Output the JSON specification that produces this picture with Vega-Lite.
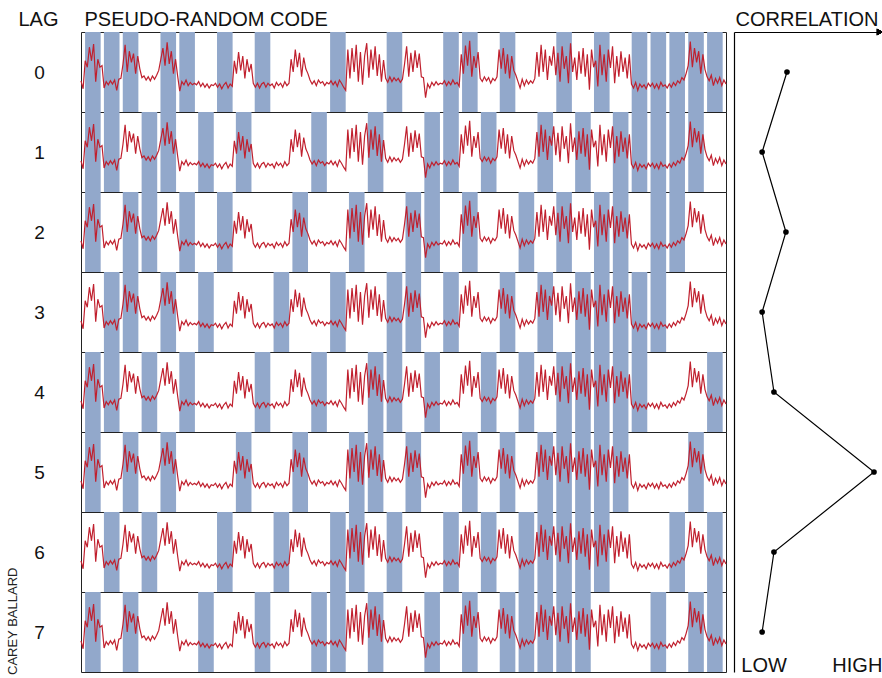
{
"$schema": "https://vega.github.io/schema/vega-lite/v6.json",
"background": "white",
"padding": {"left": 7, "top": 8, "right": 0, "bottom": 0},
"config": {"font": "Liberation Sans", "view": {"stroke": "#222", "strokeWidth": 1}},
"title": {"text": "CAREY BALLARD", "orient": "left", "anchor": "start", "fontSize": 13, "fontWeight": "normal", "color": "#222", "offset": -3},
"datasets": {
"signal": [
{"i":0,"v":39},
{"i":1,"v":29},{"i":2,"v":64},{"i":3,"v":56},{"i":4,"v":81},{"i":5,"v":64},{"i":6,"v":85},{"i":7,"v":38},{"i":8,"v":66},{"i":9,"v":56},
{"i":10,"v":58},{"i":11,"v":30},{"i":12,"v":38},{"i":13,"v":34},{"i":14,"v":39},{"i":15,"v":35},{"i":16,"v":40},{"i":17,"v":27},{"i":18,"v":41},
{"i":19,"v":42},{"i":20,"v":60},{"i":21,"v":84},{"i":22,"v":50},{"i":23,"v":76},{"i":24,"v":62},{"i":25,"v":73},{"i":26,"v":48},{"i":27,"v":70},
{"i":28,"v":54},{"i":29,"v":43},{"i":30,"v":45},{"i":31,"v":40},{"i":32,"v":44},{"i":33,"v":39},{"i":34,"v":45},{"i":35,"v":41},{"i":36,"v":46},
{"i":37,"v":52},{"i":38,"v":66},{"i":39,"v":80},{"i":40,"v":58},{"i":41,"v":87},{"i":42,"v":60},{"i":43,"v":76},{"i":44,"v":48},{"i":45,"v":66},
{"i":46,"v":45},{"i":47,"v":26},{"i":48,"v":38},{"i":49,"v":34},{"i":50,"v":40},{"i":51,"v":33},{"i":52,"v":37},{"i":53,"v":34},{"i":54,"v":36},
{"i":55,"v":34},{"i":56,"v":38},{"i":57,"v":32},{"i":58,"v":36},{"i":59,"v":31},{"i":60,"v":35},{"i":61,"v":30},{"i":62,"v":34},{"i":63,"v":33},
{"i":64,"v":36},{"i":65,"v":31},{"i":66,"v":35},{"i":67,"v":29},{"i":68,"v":34},{"i":69,"v":37},{"i":70,"v":30},{"i":71,"v":35},{"i":72,"v":32},
{"i":73,"v":64},{"i":74,"v":48},{"i":75,"v":75},{"i":76,"v":52},{"i":77,"v":70},{"i":78,"v":42},{"i":79,"v":66},{"i":80,"v":50},{"i":81,"v":60},
{"i":82,"v":36},{"i":83,"v":31},{"i":84,"v":36},{"i":85,"v":30},{"i":86,"v":35},{"i":87,"v":37},{"i":88,"v":31},{"i":89,"v":36},{"i":90,"v":33},
{"i":91,"v":35},{"i":92,"v":30},{"i":93,"v":37},{"i":94,"v":33},{"i":95,"v":36},{"i":96,"v":31},{"i":97,"v":38},{"i":98,"v":33},{"i":99,"v":36},
{"i":100,"v":66},{"i":101,"v":50},{"i":102,"v":78},{"i":103,"v":56},{"i":104,"v":74},{"i":105,"v":44},{"i":106,"v":68},{"i":107,"v":54},{"i":108,"v":48},
{"i":109,"v":40},{"i":110,"v":35},{"i":111,"v":39},{"i":112,"v":33},{"i":113,"v":40},{"i":114,"v":36},{"i":115,"v":38},{"i":116,"v":33},{"i":117,"v":37},
{"i":118,"v":35},{"i":119,"v":39},{"i":120,"v":34},{"i":121,"v":38},{"i":122,"v":32},{"i":123,"v":40},{"i":124,"v":36},{"i":125,"v":31},{"i":126,"v":27},
{"i":127,"v":78},{"i":128,"v":42},{"i":129,"v":80},{"i":130,"v":50},{"i":131,"v":84},{"i":132,"v":38},{"i":133,"v":75},{"i":134,"v":34},{"i":135,"v":70},
{"i":136,"v":86},{"i":137,"v":43},{"i":138,"v":78},{"i":139,"v":53},{"i":140,"v":82},{"i":141,"v":45},{"i":142,"v":72},{"i":143,"v":38},{"i":144,"v":65},
{"i":145,"v":42},{"i":146,"v":37},{"i":147,"v":44},{"i":148,"v":38},{"i":149,"v":43},{"i":150,"v":39},{"i":151,"v":42},{"i":152,"v":37},{"i":153,"v":41},
{"i":154,"v":60},{"i":155,"v":82},{"i":156,"v":44},{"i":157,"v":74},{"i":158,"v":50},{"i":159,"v":77},{"i":160,"v":55},{"i":161,"v":73},{"i":162,"v":44},
{"i":163,"v":43},{"i":164,"v":18},{"i":165,"v":35},{"i":166,"v":30},{"i":167,"v":37},{"i":168,"v":33},{"i":169,"v":38},{"i":170,"v":34},{"i":171,"v":36},
{"i":172,"v":35},{"i":173,"v":39},{"i":174,"v":33},{"i":175,"v":38},{"i":176,"v":34},{"i":177,"v":40},{"i":178,"v":35},{"i":179,"v":37},{"i":180,"v":32},
{"i":181,"v":72},{"i":182,"v":48},{"i":183,"v":83},{"i":184,"v":58},{"i":185,"v":89},{"i":186,"v":44},{"i":187,"v":70},{"i":188,"v":55},{"i":189,"v":75},
{"i":190,"v":42},{"i":191,"v":38},{"i":192,"v":44},{"i":193,"v":39},{"i":194,"v":43},{"i":195,"v":36},{"i":196,"v":42},{"i":197,"v":39},{"i":198,"v":44},
{"i":199,"v":78},{"i":200,"v":54},{"i":201,"v":80},{"i":202,"v":48},{"i":203,"v":72},{"i":204,"v":42},{"i":205,"v":70},{"i":206,"v":52},{"i":207,"v":46},
{"i":208,"v":38},{"i":209,"v":30},{"i":210,"v":41},{"i":211,"v":33},{"i":212,"v":40},{"i":213,"v":35},{"i":214,"v":39},{"i":215,"v":36},{"i":216,"v":42},
{"i":217,"v":75},{"i":218,"v":44},{"i":219,"v":84},{"i":220,"v":50},{"i":221,"v":78},{"i":222,"v":40},{"i":223,"v":70},{"i":224,"v":58},{"i":225,"v":82},
{"i":226,"v":46},{"i":227,"v":74},{"i":228,"v":38},{"i":229,"v":82},{"i":230,"v":54},{"i":231,"v":70},{"i":232,"v":36},{"i":233,"v":86},{"i":234,"v":50},
{"i":235,"v":68},{"i":236,"v":40},{"i":237,"v":76},{"i":238,"v":48},{"i":239,"v":80},{"i":240,"v":44},{"i":241,"v":72},{"i":242,"v":28},{"i":243,"v":78},
{"i":244,"v":56},{"i":245,"v":64},{"i":246,"v":32},{"i":247,"v":84},{"i":248,"v":46},{"i":249,"v":72},{"i":250,"v":38},{"i":251,"v":78},{"i":252,"v":55},
{"i":253,"v":82},{"i":254,"v":36},{"i":255,"v":70},{"i":256,"v":44},{"i":257,"v":76},{"i":258,"v":50},{"i":259,"v":68},{"i":260,"v":42},{"i":261,"v":72},
{"i":262,"v":35},{"i":263,"v":30},{"i":264,"v":37},{"i":265,"v":27},{"i":266,"v":35},{"i":267,"v":31},{"i":268,"v":34},{"i":269,"v":29},{"i":270,"v":36},
{"i":271,"v":32},{"i":272,"v":36},{"i":273,"v":30},{"i":274,"v":35},{"i":275,"v":29},{"i":276,"v":37},{"i":277,"v":32},{"i":278,"v":34},{"i":279,"v":30},
{"i":280,"v":35},{"i":281,"v":31},{"i":282,"v":37},{"i":283,"v":33},{"i":284,"v":39},{"i":285,"v":36},{"i":286,"v":43},{"i":287,"v":40},{"i":288,"v":48},
{"i":289,"v":58},{"i":290,"v":88},{"i":291,"v":56},{"i":292,"v":80},{"i":293,"v":62},{"i":294,"v":76},{"i":295,"v":48},{"i":296,"v":72},{"i":297,"v":53},
{"i":298,"v":44},{"i":299,"v":39},{"i":300,"v":46},{"i":301,"v":33},{"i":302,"v":42},{"i":303,"v":36},{"i":304,"v":43},{"i":305,"v":33},{"i":306,"v":40},
{"i":307,"v":35}
],
"code": [
{"lag":0,"chip":0},{"lag":0,"chip":1},{"lag":0,"chip":2},{"lag":0,"chip":4},{"lag":0,"chip":5},{"lag":0,"chip":7},{"lag":0,"chip":9},{"lag":0,"chip":13},{"lag":0,"chip":16},{"lag":0,"chip":19},{"lag":0,"chip":20},{"lag":0,"chip":22},{"lag":0,"chip":25},{"lag":0,"chip":27},{"lag":0,"chip":29},{"lag":0,"chip":30},{"lag":0,"chip":31},{"lag":0,"chip":32},{"lag":0,"chip":33},
{"lag":1,"chip":0},{"lag":1,"chip":1},{"lag":1,"chip":3},{"lag":1,"chip":4},{"lag":1,"chip":6},{"lag":1,"chip":8},{"lag":1,"chip":12},{"lag":1,"chip":15},{"lag":1,"chip":18},{"lag":1,"chip":19},{"lag":1,"chip":21},{"lag":1,"chip":24},{"lag":1,"chip":26},{"lag":1,"chip":28},{"lag":1,"chip":29},{"lag":1,"chip":30},{"lag":1,"chip":31},{"lag":1,"chip":32},
{"lag":2,"chip":0},{"lag":2,"chip":2},{"lag":2,"chip":3},{"lag":2,"chip":5},{"lag":2,"chip":7},{"lag":2,"chip":11},{"lag":2,"chip":14},{"lag":2,"chip":17},{"lag":2,"chip":18},{"lag":2,"chip":20},{"lag":2,"chip":23},{"lag":2,"chip":25},{"lag":2,"chip":27},{"lag":2,"chip":28},{"lag":2,"chip":30},{"lag":2,"chip":31},
{"lag":3,"chip":1},{"lag":3,"chip":2},{"lag":3,"chip":4},{"lag":3,"chip":6},{"lag":3,"chip":10},{"lag":3,"chip":13},{"lag":3,"chip":16},{"lag":3,"chip":17},{"lag":3,"chip":19},{"lag":3,"chip":22},{"lag":3,"chip":24},{"lag":3,"chip":26},{"lag":3,"chip":27},{"lag":3,"chip":28},{"lag":3,"chip":29},{"lag":3,"chip":30},
{"lag":4,"chip":0},{"lag":4,"chip":1},{"lag":4,"chip":3},{"lag":4,"chip":5},{"lag":4,"chip":9},{"lag":4,"chip":12},{"lag":4,"chip":15},{"lag":4,"chip":16},{"lag":4,"chip":18},{"lag":4,"chip":21},{"lag":4,"chip":23},{"lag":4,"chip":25},{"lag":4,"chip":26},{"lag":4,"chip":27},{"lag":4,"chip":28},{"lag":4,"chip":29},{"lag":4,"chip":33},
{"lag":5,"chip":0},{"lag":5,"chip":2},{"lag":5,"chip":4},{"lag":5,"chip":8},{"lag":5,"chip":11},{"lag":5,"chip":14},{"lag":5,"chip":15},{"lag":5,"chip":17},{"lag":5,"chip":20},{"lag":5,"chip":22},{"lag":5,"chip":24},{"lag":5,"chip":25},{"lag":5,"chip":26},{"lag":5,"chip":27},{"lag":5,"chip":28},{"lag":5,"chip":32},
{"lag":6,"chip":1},{"lag":6,"chip":3},{"lag":6,"chip":7},{"lag":6,"chip":10},{"lag":6,"chip":13},{"lag":6,"chip":14},{"lag":6,"chip":16},{"lag":6,"chip":19},{"lag":6,"chip":21},{"lag":6,"chip":23},{"lag":6,"chip":24},{"lag":6,"chip":25},{"lag":6,"chip":26},{"lag":6,"chip":27},{"lag":6,"chip":31},{"lag":6,"chip":33},
{"lag":7,"chip":0},{"lag":7,"chip":2},{"lag":7,"chip":6},{"lag":7,"chip":9},{"lag":7,"chip":12},{"lag":7,"chip":13},{"lag":7,"chip":15},{"lag":7,"chip":18},{"lag":7,"chip":20},{"lag":7,"chip":22},{"lag":7,"chip":23},{"lag":7,"chip":24},{"lag":7,"chip":25},{"lag":7,"chip":26},{"lag":7,"chip":30},{"lag":7,"chip":32},{"lag":7,"chip":33}
],
"corr": [
{"lag":0,"corr":0.358},{"lag":1,"corr":0.19},{"lag":2,"corr":0.351},{"lag":3,"corr":0.19},{"lag":4,"corr":0.27},{"lag":5,"corr":0.946},{"lag":6,"corr":0.27},{"lag":7,"corr":0.19}
]
},
"spacing": 5,
"hconcat": [
{
"spacing": 0,
"bounds": "flush",
"vconcat": [
{"width":645,"height":80,
 "resolve":{"scale":{"x":"independent"}},
 "layer":[
  {"data":{"name":"code"},"transform":[{"filter":"datum.lag === 0"}],
   "mark":{"type":"bar","color":"#92a8cb","width":15.6,"orient":"vertical"},
   "encoding":{"x":{"field":"chip","type":"quantitative","scale":{"domain":[-0.63,33.59],"nice":false,"zero":false,"padding":0},
     "axis":{"orient":"top","domain":false,"ticks":false,"labels":false,"grid":false,"title":"PSEUDO-RANDOM CODE","titleX":3,"titleY":-7,"titleAlign":"left","titleBaseline":"alphabetic","titleAngle":0,"titleFontSize":20,"titleFontWeight":"normal","titleColor":"#111"}},
    "y":{"datum":100,"type":"quantitative","scale":{"domain":[0,100],"nice":false,"zero":false},
     "axis":{"values":[50],"labelExpr":"'0'","ticks":false,"domain":false,"grid":false,"labelFontSize":19,"labelColor":"#111","labelAlign":"center","labelBaseline":"middle","labelPadding":42,"title":"LAG","titleAngle":0,"titleX":-43,"titleY":-7,"titleAlign":"center","titleBaseline":"alphabetic","titleFontSize":20,"titleFontWeight":"normal","titleColor":"#111"}}}},
  {"data":{"name":"signal"},
   "mark":{"type":"line","color":"#c0202e","strokeWidth":1.2},
   "encoding":{"x":{"field":"i","type":"quantitative","scale":{"domain":[0,307],"nice":false,"zero":false},"axis":null},
    "y":{"field":"v","type":"quantitative",
     "axis":{"values":[50],"labelExpr":"'0'","ticks":false,"domain":false,"grid":false,"labelFontSize":19,"labelColor":"#111","labelAlign":"center","labelBaseline":"middle","labelPadding":42,"title":"LAG","titleAngle":0,"titleX":-43,"titleY":-7,"titleAlign":"center","titleBaseline":"alphabetic","titleFontSize":20,"titleFontWeight":"normal","titleColor":"#111"}}}}
 ]},
{"width":645,"height":80,
 "resolve":{"scale":{"x":"independent"}},
 "layer":[
  {"data":{"name":"code"},"transform":[{"filter":"datum.lag === 1"}],
   "mark":{"type":"bar","color":"#92a8cb","width":15.6,"orient":"vertical"},
   "encoding":{"x":{"field":"chip","type":"quantitative","scale":{"domain":[-0.63,33.59],"nice":false,"zero":false,"padding":0},"axis":null},
    "y":{"datum":100,"type":"quantitative","scale":{"domain":[0,100],"nice":false,"zero":false},
     "axis":{"values":[50],"labelExpr":"'1'","ticks":false,"domain":false,"grid":false,"labelFontSize":19,"labelColor":"#111","labelAlign":"center","labelBaseline":"middle","labelPadding":42,"title":null}}}},
  {"data":{"name":"signal"},
   "mark":{"type":"line","color":"#c0202e","strokeWidth":1.2},
   "encoding":{"x":{"field":"i","type":"quantitative","scale":{"domain":[0,307],"nice":false,"zero":false},"axis":null},
    "y":{"field":"v","type":"quantitative",
     "axis":{"values":[50],"labelExpr":"'1'","ticks":false,"domain":false,"grid":false,"labelFontSize":19,"labelColor":"#111","labelAlign":"center","labelBaseline":"middle","labelPadding":42,"title":null}}}}
 ]},
{"width":645,"height":80,
 "resolve":{"scale":{"x":"independent"}},
 "layer":[
  {"data":{"name":"code"},"transform":[{"filter":"datum.lag === 2"}],
   "mark":{"type":"bar","color":"#92a8cb","width":15.6,"orient":"vertical"},
   "encoding":{"x":{"field":"chip","type":"quantitative","scale":{"domain":[-0.63,33.59],"nice":false,"zero":false,"padding":0},"axis":null},
    "y":{"datum":100,"type":"quantitative","scale":{"domain":[0,100],"nice":false,"zero":false},
     "axis":{"values":[50],"labelExpr":"'2'","ticks":false,"domain":false,"grid":false,"labelFontSize":19,"labelColor":"#111","labelAlign":"center","labelBaseline":"middle","labelPadding":42,"title":null}}}},
  {"data":{"name":"signal"},
   "mark":{"type":"line","color":"#c0202e","strokeWidth":1.2},
   "encoding":{"x":{"field":"i","type":"quantitative","scale":{"domain":[0,307],"nice":false,"zero":false},"axis":null},
    "y":{"field":"v","type":"quantitative",
     "axis":{"values":[50],"labelExpr":"'2'","ticks":false,"domain":false,"grid":false,"labelFontSize":19,"labelColor":"#111","labelAlign":"center","labelBaseline":"middle","labelPadding":42,"title":null}}}}
 ]},
{"width":645,"height":80,
 "resolve":{"scale":{"x":"independent"}},
 "layer":[
  {"data":{"name":"code"},"transform":[{"filter":"datum.lag === 3"}],
   "mark":{"type":"bar","color":"#92a8cb","width":15.6,"orient":"vertical"},
   "encoding":{"x":{"field":"chip","type":"quantitative","scale":{"domain":[-0.63,33.59],"nice":false,"zero":false,"padding":0},"axis":null},
    "y":{"datum":100,"type":"quantitative","scale":{"domain":[0,100],"nice":false,"zero":false},
     "axis":{"values":[50],"labelExpr":"'3'","ticks":false,"domain":false,"grid":false,"labelFontSize":19,"labelColor":"#111","labelAlign":"center","labelBaseline":"middle","labelPadding":42,"title":null}}}},
  {"data":{"name":"signal"},
   "mark":{"type":"line","color":"#c0202e","strokeWidth":1.2},
   "encoding":{"x":{"field":"i","type":"quantitative","scale":{"domain":[0,307],"nice":false,"zero":false},"axis":null},
    "y":{"field":"v","type":"quantitative",
     "axis":{"values":[50],"labelExpr":"'3'","ticks":false,"domain":false,"grid":false,"labelFontSize":19,"labelColor":"#111","labelAlign":"center","labelBaseline":"middle","labelPadding":42,"title":null}}}}
 ]},
{"width":645,"height":80,
 "resolve":{"scale":{"x":"independent"}},
 "layer":[
  {"data":{"name":"code"},"transform":[{"filter":"datum.lag === 4"}],
   "mark":{"type":"bar","color":"#92a8cb","width":15.6,"orient":"vertical"},
   "encoding":{"x":{"field":"chip","type":"quantitative","scale":{"domain":[-0.63,33.59],"nice":false,"zero":false,"padding":0},"axis":null},
    "y":{"datum":100,"type":"quantitative","scale":{"domain":[0,100],"nice":false,"zero":false},
     "axis":{"values":[50],"labelExpr":"'4'","ticks":false,"domain":false,"grid":false,"labelFontSize":19,"labelColor":"#111","labelAlign":"center","labelBaseline":"middle","labelPadding":42,"title":null}}}},
  {"data":{"name":"signal"},
   "mark":{"type":"line","color":"#c0202e","strokeWidth":1.2},
   "encoding":{"x":{"field":"i","type":"quantitative","scale":{"domain":[0,307],"nice":false,"zero":false},"axis":null},
    "y":{"field":"v","type":"quantitative",
     "axis":{"values":[50],"labelExpr":"'4'","ticks":false,"domain":false,"grid":false,"labelFontSize":19,"labelColor":"#111","labelAlign":"center","labelBaseline":"middle","labelPadding":42,"title":null}}}}
 ]},
{"width":645,"height":80,
 "resolve":{"scale":{"x":"independent"}},
 "layer":[
  {"data":{"name":"code"},"transform":[{"filter":"datum.lag === 5"}],
   "mark":{"type":"bar","color":"#92a8cb","width":15.6,"orient":"vertical"},
   "encoding":{"x":{"field":"chip","type":"quantitative","scale":{"domain":[-0.63,33.59],"nice":false,"zero":false,"padding":0},"axis":null},
    "y":{"datum":100,"type":"quantitative","scale":{"domain":[0,100],"nice":false,"zero":false},
     "axis":{"values":[50],"labelExpr":"'5'","ticks":false,"domain":false,"grid":false,"labelFontSize":19,"labelColor":"#111","labelAlign":"center","labelBaseline":"middle","labelPadding":42,"title":null}}}},
  {"data":{"name":"signal"},
   "mark":{"type":"line","color":"#c0202e","strokeWidth":1.2},
   "encoding":{"x":{"field":"i","type":"quantitative","scale":{"domain":[0,307],"nice":false,"zero":false},"axis":null},
    "y":{"field":"v","type":"quantitative",
     "axis":{"values":[50],"labelExpr":"'5'","ticks":false,"domain":false,"grid":false,"labelFontSize":19,"labelColor":"#111","labelAlign":"center","labelBaseline":"middle","labelPadding":42,"title":null}}}}
 ]},
{"width":645,"height":80,
 "resolve":{"scale":{"x":"independent"}},
 "layer":[
  {"data":{"name":"code"},"transform":[{"filter":"datum.lag === 6"}],
   "mark":{"type":"bar","color":"#92a8cb","width":15.6,"orient":"vertical"},
   "encoding":{"x":{"field":"chip","type":"quantitative","scale":{"domain":[-0.63,33.59],"nice":false,"zero":false,"padding":0},"axis":null},
    "y":{"datum":100,"type":"quantitative","scale":{"domain":[0,100],"nice":false,"zero":false},
     "axis":{"values":[50],"labelExpr":"'6'","ticks":false,"domain":false,"grid":false,"labelFontSize":19,"labelColor":"#111","labelAlign":"center","labelBaseline":"middle","labelPadding":42,"title":null}}}},
  {"data":{"name":"signal"},
   "mark":{"type":"line","color":"#c0202e","strokeWidth":1.2},
   "encoding":{"x":{"field":"i","type":"quantitative","scale":{"domain":[0,307],"nice":false,"zero":false},"axis":null},
    "y":{"field":"v","type":"quantitative",
     "axis":{"values":[50],"labelExpr":"'6'","ticks":false,"domain":false,"grid":false,"labelFontSize":19,"labelColor":"#111","labelAlign":"center","labelBaseline":"middle","labelPadding":42,"title":null}}}}
 ]},
{"width":645,"height":80,
 "resolve":{"scale":{"x":"independent"}},
 "layer":[
  {"data":{"name":"code"},"transform":[{"filter":"datum.lag === 7"}],
   "mark":{"type":"bar","color":"#92a8cb","width":15.6,"orient":"vertical"},
   "encoding":{"x":{"field":"chip","type":"quantitative","scale":{"domain":[-0.63,33.59],"nice":false,"zero":false,"padding":0},"axis":null},
    "y":{"datum":100,"type":"quantitative","scale":{"domain":[0,100],"nice":false,"zero":false},
     "axis":{"values":[50],"labelExpr":"'7'","ticks":false,"domain":false,"grid":false,"labelFontSize":19,"labelColor":"#111","labelAlign":"center","labelBaseline":"middle","labelPadding":42,"title":null}}}},
  {"data":{"name":"signal"},
   "mark":{"type":"line","color":"#c0202e","strokeWidth":1.2},
   "encoding":{"x":{"field":"i","type":"quantitative","scale":{"domain":[0,307],"nice":false,"zero":false},"axis":null},
    "y":{"field":"v","type":"quantitative",
     "axis":{"values":[50],"labelExpr":"'7'","ticks":false,"domain":false,"grid":false,"labelFontSize":19,"labelColor":"#111","labelAlign":"center","labelBaseline":"middle","labelPadding":42,"title":null}}}}
 ]}
]
},
{
"width": 148, "height": 640,
"view": {"stroke": null},
"data": {"name": "corr"},
"resolve": {"scale": {"x": "independent"}},
"layer": [
 {"mark": {"type": "line", "color": "#000", "strokeWidth": 1.2},
  "encoding": {
   "x": {"field": "corr", "type": "quantitative", "scale": {"domain": [0, 1], "nice": false, "zero": false},
    "axis": {"orient": "top", "domain": true, "domainColor": "#000", "domainWidth": 1.2, "ticks": false, "labels": false, "grid": false, "title": "CORRELATION", "titleX": 1, "titleY": -7, "titleAlign": "left", "titleBaseline": "alphabetic", "titleAngle": 0, "titleFontSize": 20, "titleFontWeight": "normal", "titleColor": "#111"}},
   "y": {"field": "lag", "type": "quantitative", "scale": {"domain": [-0.5, 7.5], "reverse": true, "nice": false, "zero": false},
    "axis": {"domain": true, "domainColor": "#000", "domainWidth": 1.2, "ticks": false, "labels": false, "grid": false, "title": null}},
   "order": {"field": "lag"}}},
 {"mark": {"type": "circle", "color": "#000", "size": 32, "opacity": 1},
  "encoding": {
   "x": {"field": "corr", "type": "quantitative", "scale": {"domain": [0, 1], "nice": false, "zero": false},
    "axis": {"orient": "bottom", "domain": false, "ticks": false, "grid": false, "title": null, "values": [0.2, 0.83], "labelExpr": "datum.value < 0.5 ? 'LOW' : 'HIGH'", "labelFontSize": 20, "labelColor": "#111", "labelFlush": false, "labelAlign": "center", "labelBaseline": "alphabetic", "labelPadding": -1}},
   "y": {"field": "lag", "type": "quantitative",
    "axis": {"domain": true, "domainColor": "#000", "domainWidth": 1.2, "ticks": false, "labels": false, "grid": false, "title": null}}}},
 {"mark": {"type": "point", "shape": "triangle-right", "filled": true, "color": "#000", "size": 45, "opacity": 1},
  "encoding": {
   "x": {"datum": 0.985, "type": "quantitative", "scale": {"domain": [0, 1], "nice": false, "zero": false}, "axis": null},
   "y": {"datum": -0.5, "type": "quantitative",
    "axis": {"domain": true, "domainColor": "#000", "domainWidth": 1.2, "ticks": false, "labels": false, "grid": false, "title": null}}}}
]
}
]
}
